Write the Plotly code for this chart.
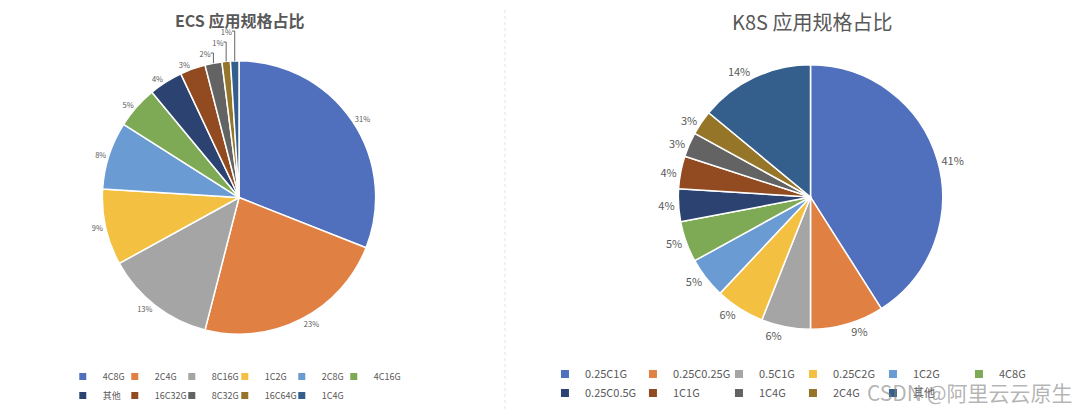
import plotly.graph_objects as go

# ECS 应用规格 (percent)
ecs_labels = ["4C8G", "2C4G", "8C16G", "1C2G", "2C8G", "4C16G",
              "其他", "16C32G", "8C32G", "16C64G", "1C4G"]
ecs_values = [31, 23, 13, 9, 8, 5, 4, 3, 2, 1, 1]

# K8S 应用规格 (percent)
k8s_labels = ["0.25C1G", "0.25C0.25G", "0.5C1G", "0.25C2G", "1C2G", "4C8G",
              "0.25C0.5G", "1C1G", "1C4G", "2C4G", "其他"]
k8s_values = [41, 9, 6, 6, 5, 5, 4, 4, 3, 3, 14]

# excel office palette, as it looks in the screenshot
palette = ["#5070BE", "#E08143", "#A5A5A5", "#F4C042", "#6A9BD3", "#7EAA55",
           "#2C4372", "#924B20", "#636363", "#957527", "#345E8C"]

FONT = "Noto Sans CJK SC"
GREY = "#595959"
W, H = 1072, 402  # page body has an 8px margin, keep inside the 1080x410 window

fig = go.Figure()


def add_pie(labels, values, domain, text_size):
    fig.add_trace(go.Pie(
        labels=labels,
        values=values,
        sort=False,
        direction="clockwise",
        rotation=0,
        marker=dict(colors=palette, line=dict(color="white", width=1.5)),
        textposition="outside",
        texttemplate="%{percent:.0%}",
        textfont=dict(size=text_size, color=GREY, family=FONT),
        domain=domain,
        showlegend=False,
        hoverinfo="label+percent",
    ))


def add_legend(labels, legend_id, col_widths, sym_size):
    # excel style legend: 6 columns x 2 rows, one legendgroup per column
    ncol = len(col_widths)
    for i, name in enumerate(labels):
        col = i % ncol
        fig.add_trace(go.Scatter(
            x=[None], y=[None],
            mode="markers",
            name=name,
            marker=dict(symbol="square", size=sym_size, color=palette[i]),
            legend=legend_id,
            legendgroup=f"{legend_id}_{col}",
            legendwidth=col_widths[col],
            hoverinfo="skip",
        ))


add_pie(ecs_labels, ecs_values, dict(x=[0.0877, 0.3433], y=[0.1866, 0.8682]), 7.5)
add_pie(k8s_labels, k8s_values, dict(x=[0.625, 0.8722], y=[0.199, 0.8582]), 11)

add_legend(ecs_labels, "legend", [7, 12, 8, 12, 7, 32], 7)
add_legend(k8s_labels, "legend2", [43, 41, 29, 35, 41, 45], 8)

legend_common = dict(
    orientation="h",
    xanchor="left",
    yanchor="top",
    itemwidth=30,
    tracegroupgap=0,
    traceorder="grouped",
    bgcolor="rgba(0,0,0,0)",
    itemclick=False,
    itemdoubleclick=False,
)

fig.update_layout(
    width=W,
    height=H,
    paper_bgcolor="white",
    plot_bgcolor="white",
    margin=dict(t=0, b=0, l=0, r=0),
    font=dict(family=FONT, color=GREY),
    xaxis=dict(visible=False),
    yaxis=dict(visible=False),
    legend=dict(x=0.0511, y=0.117, font=dict(size=9, color=GREY, family=FONT), **legend_common),
    legend2=dict(x=0.5009, y=0.1256, font=dict(size=11, color=GREY, family=FONT), **legend_common),
    annotations=[
        dict(text="<b>ECS 应用规格占比</b>", x=0.2164, y=0.971, xref="paper", yref="paper",
             xanchor="center", yanchor="middle", showarrow=False, borderpad=0,
             font=dict(size=16, color=GREY, family=FONT)),
        dict(text="K8S 应用规格占比", x=0.75, y=0.9652, xref="paper", yref="paper",
             xanchor="center", yanchor="middle", showarrow=False, borderpad=0,
             font=dict(size=20, color=GREY, family=FONT)),
        dict(text="CSDN @阿里云云原生", x=0.9953, y=0.0423, xref="paper", yref="paper",
             xanchor="right", yanchor="middle", showarrow=False,
             font=dict(size=21, color="rgba(130,130,130,0.6)", family=FONT)),
    ],
    shapes=[
        dict(type="line", xref="paper", yref="paper", x0=0.4636, x1=0.4636, y0=0, y1=1,
             line=dict(color="#E3E3E3", width=1, dash="dot")),
    ],
)

fig.write_html("out.html")
